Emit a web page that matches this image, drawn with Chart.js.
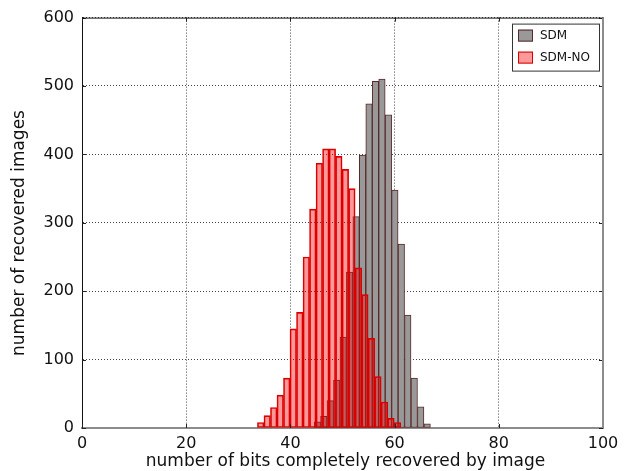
<!DOCTYPE html>
<html>
<head>
<meta charset="utf-8">
<script src="https://cdn.jsdelivr.net/npm/chart.js@4/dist/chart.umd.min.js"></script>
<style>
  html, body { margin: 0; padding: 0; background: #fff; }
  #wrap { width: 635px; height: 471px; }
</style>
</head>
<body>
<div id="wrap"><canvas id="hist" width="635" height="471"></canvas></div>
<script>
'use strict';

// ── data ────────────────────────────────────────────────────────────────────
const seriesNames = ['SDM', 'SDM-NO'];

const sdmCenters = [45.17, 46.41, 47.65, 48.89, 50.13, 51.37, 52.61, 53.85, 55.09,
                    56.33, 57.57, 58.81, 60.05, 61.29, 62.53, 63.77, 65.01, 66.25];
const sdmCounts  = [9, 17, 40, 70, 133, 228, 309, 399, 474,
                    507, 510, 458, 348, 269, 165, 73, 31, 6];

const noCenters  = [34.3, 35.55, 36.8, 38.05, 39.3, 40.55, 41.8, 43.05, 44.3, 45.55, 46.8,
                    48.05, 49.3, 50.55, 51.8, 53.05, 54.3, 55.55, 56.8, 58.05, 59.3, 60.55];
const noCounts   = [8, 18, 30, 48, 73, 145, 169, 250, 320, 387, 408,
                    408, 397, 378, 350, 234, 195, 131, 75, 38, 14, 8];

const xTicks = [0, 20, 40, 60, 80, 100];
const yTicks = [0, 100, 200, 300, 400, 500, 600];

const xTitle = 'number of bits completely recovered by image';
const yTitle = 'number of recovered images';

const FONT = "'DejaVu Sans', Verdana, sans-serif";

const toPoints = (xs, ys) => xs.map((x, i) => ({ x, y: ys[i] }));

// frame sides, inward tick marks, axis titles and the boxed legend
const framePlugin = {
  id: 'frame',
  afterDatasetsDraw(chart) {
    const { ctx, chartArea: a, scales } = chart;
    ctx.save();
    ctx.strokeStyle = '#222';
    ctx.lineWidth = 1;
    ctx.beginPath();
    xTicks.forEach(v => {
      const px = Math.round(scales.x.getPixelForValue(v)) + 0.5;
      ctx.moveTo(px, a.bottom); ctx.lineTo(px, a.bottom - 4);
      ctx.moveTo(px, a.top);    ctx.lineTo(px, a.top + 4);
    });
    yTicks.forEach(v => {
      const py = Math.round(scales.y.getPixelForValue(v)) + 0.5;
      ctx.moveTo(a.left, py);  ctx.lineTo(a.left + 4, py);
      ctx.moveTo(a.right, py); ctx.lineTo(a.right - 4, py);
    });
    ctx.stroke();
    ctx.strokeStyle = '#111';
    ctx.beginPath();
    ctx.moveTo(a.left, a.top + 0.5);
    ctx.lineTo(a.right, a.top + 0.5);
    ctx.stroke();
    ctx.strokeStyle = '#8c8c8c';
    ctx.lineWidth = 2;
    ctx.beginPath();
    ctx.moveTo(a.right, a.top);
    ctx.lineTo(a.right, a.bottom);
    ctx.stroke();
    ctx.restore();
  },
  afterDraw(chart) {
    const { ctx, chartArea: a } = chart;
    ctx.save();
    ctx.fillStyle = '#111';
    ctx.font = `17px ${FONT}`;
    ctx.textAlign = 'center';
    ctx.textBaseline = 'middle';
    ctx.fillText(xTitle, (a.left + a.right) / 2 + 3, 462);
    ctx.save();
    ctx.translate(20, 233);
    ctx.rotate(-Math.PI / 2);
    ctx.fillText(yTitle, 0, 0);
    ctx.restore();

    // legend box, top right inside the plot
    const bx = a.right - 91, by = a.top + 6, bw = 87, bh = 47;
    ctx.fillStyle = '#fff';
    ctx.fillRect(bx, by, bw, bh);
    ctx.strokeStyle = '#333';
    ctx.lineWidth = 1;
    ctx.strokeRect(bx + 0.5, by + 0.5, bw, bh);
    chart.data.datasets.forEach(ds => {
      const sy = by + 6 + ds.legendRow * 22;
      ctx.fillStyle = ds.backgroundColor;
      ctx.fillRect(bx + 6, sy, 15, 12);
      ctx.strokeStyle = ds.borderColor;
      ctx.strokeRect(bx + 6.5, sy + 0.5, 14, 11);
      ctx.fillStyle = '#111';
      ctx.font = `12px ${FONT}`;
      ctx.textBaseline = 'middle';
      ctx.textAlign = 'left';
      ctx.fillText(ds.label, bx + 28, sy + 6.5);
    });
    ctx.restore();
  },
};

new Chart(document.getElementById('hist'), {
  type: 'bar',
  data: {
    datasets: [
      {
        label: seriesNames[0],
        legendRow: 0,
        data: toPoints(sdmCenters, sdmCounts),
        xAxisID: 'x2',
        backgroundColor: '#999999',
        borderColor: '#5a2828',
        borderWidth: 1,
        borderSkipped: false,
        order: 2,
      },
      {
        label: seriesNames[1],
        legendRow: 1,
        data: toPoints(noCenters, noCounts),
        xAxisID: 'x',
        backgroundColor: 'rgba(255,0,0,0.4)',
        borderColor: '#d40000',
        borderWidth: 1,
        borderSkipped: false,
        order: 1,
      },
    ],
  },
  options: {
    responsive: false,
    animation: false,
    events: [],
    layout: { padding: { top: 17, right: 32, left: 8, bottom: 0 } },
    datasets: { bar: { barPercentage: 1, categoryPercentage: 1, grouped: false } },
    plugins: { legend: { display: false }, tooltip: { enabled: false } },
    scales: {
      x: {
        type: 'linear', min: 0, max: 100, offset: false,
        afterBuildTicks: s => { s.ticks = xTicks.map(v => ({ value: v })); },
        afterFit: s => { s.height = 43; },
        ticks: { color: '#111', font: { family: FONT, size: 16 }, padding: 6, maxRotation: 0 },
        grid: { color: '#444', drawTicks: false, offset: false },
        border: { color: '#8c8c8c', width: 2, dash: [1, 2] },
      },
      x2: {
        type: 'linear', min: 0, max: 100, offset: false, display: false,
        afterBuildTicks: s => { s.ticks = xTicks.map(v => ({ value: v })); },
        grid: { offset: false },
      },
      y: {
        min: 0, max: 600,
        afterBuildTicks: s => { s.ticks = yTicks.map(v => ({ value: v })); },
        afterFit: s => { s.width = 74; },
        ticks: { color: '#111', font: { family: FONT, size: 16 }, padding: 8 },
        grid: { color: '#444', drawTicks: false },
        border: { color: '#111', width: 1, dash: [1, 2] },
      },
    },
  },
  plugins: [framePlugin],
});
</script>
</body>
</html>
